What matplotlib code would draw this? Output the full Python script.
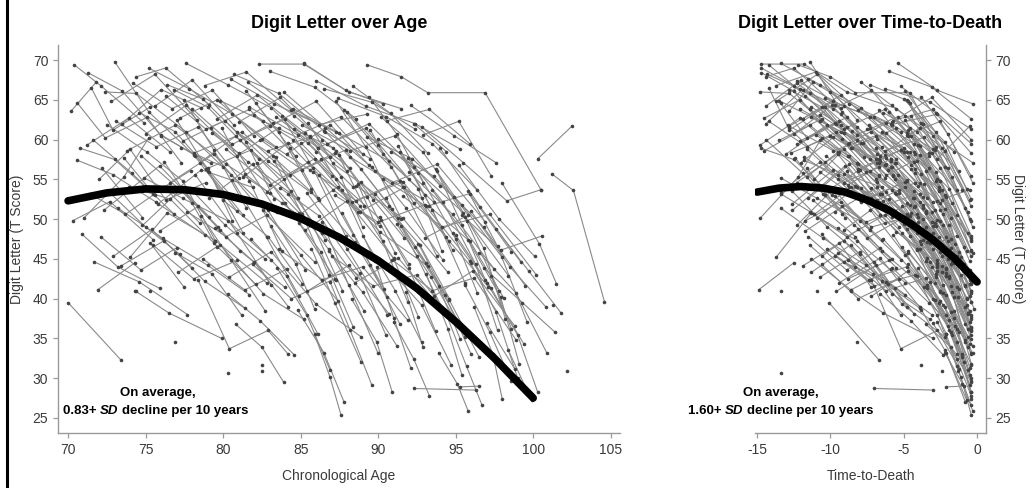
import numpy as np
import matplotlib.pyplot as plt
from matplotlib.lines import Line2D

plt.rcParams['font.family'] = ['Liberation Sans', 'DejaVu Sans']
plt.rcParams['axes.unicode_minus'] = False

# one entry per participant: age at death, ages at each visit, T scores at each visit
death_age = [
    84.6, 83.0, 86.0, 80.1, 85.5, 82.4, 85.8, 87.2, 86.5, 86.0,
    84.4, 83.8, 87.9, 81.5, 87.7, 88.8, 85.2, 88.3, 86.8, 82.9,
    89.9, 90.0, 88.3, 87.0, 88.4, 89.6, 84.7, 91.7, 86.4, 91.0,
    90.8, 88.5, 85.6, 92.5, 92.0, 87.9, 89.0, 93.3, 91.2, 86.9,
    95.0, 94.6, 90.5, 88.2, 92.7, 97.0, 89.9, 95.8, 91.9, 87.5,
    93.9, 90.7, 96.6, 88.6, 92.9, 94.4, 89.8, 98.3, 91.6, 93.1,
    90.1, 95.3, 97.8, 92.2, 94.0, 91.3, 96.9, 93.6, 99.1, 95.5,
    92.6, 97.2, 94.9, 100.3, 96.2, 96.0, 93.5, 99.6, 97.5, 101.0,
    95.9, 98.8, 100.9, 97.1, 99.9, 101.5, 103.0, 105.0, 99.0, 101.6,
    100.0, 102.4, 101.9, 100.6, 97.4, 99.3, 87.8, 86.2, 85.1, 93.7,
    86.3, 84.9, 103.5, 102.0, 80.5, 81.9, 83.2, 84.1, 85.4, 86.7,
    87.4, 88.8, 89.3, 90.4, 91.4, 92.3, 93.2, 94.1, 95.2, 96.4,
    97.3, 98.6, 99.4, 81.0, 82.6, 79.9, 83.7, 85.8, 87.0, 88.1,
    89.5, 90.9, 92.1, 93.0, 94.5, 95.7, 96.8, 98.1, 99.5, 100.7,
    84.3, 88.0, 93.7, 96.1, 98.4, 99.2, 86.1, 91.5, 95.1, 89.2,
    92.8, 96.3, 90.6, 97.9, 101.2, 82.0, 84.8, 83.5, 86.6, 85.0,
    87.6, 80.8, 89.1, 101.5,
    84.0, 86.0, 83.1, 85.7, 87.3, 84.9, 86.5, 86.0, 87.5, 87.1,
    88.0, 88.9, 89.5, 89.4, 90.5, 90.6, 91.5, 91.8, 92.0, 92.9,
    93.0, 93.1, 96.2, 94.7, 97.1, 95.6, 98.0, 96.5, 99.0, 97.6,
    100.0, 98.5, 99.8, 101.3, 100.5, 102.0, 83.6, 85.3, 86.9, 88.4,
    90.0, 91.1, 92.5, 93.8, 95.0, 96.7, 97.9, 99.7, 100.8, 102.6,
    82.3, 84.5, 86.4, 88.3, 90.3, 92.0, 94.2, 96.0, 98.2, 100.1,
    83.9, 87.8, 91.0, 95.8, 93.6, 86.8, 89.0, 97.7,
]

visit_ages = [
    [70.4, 72.1, 74.9], [70.2, 71.8], [71.3, 73.5, 76.0, 79.2], [70.0, 73.4], [70.8, 73.0, 75.6],
    [70.6, 72.9, 75.7, 78.8], [71.0, 73.6, 75.2], [72.4, 74.4, 77.6, 80.5], [72.8, 75.6, 78.3], [71.6, 74.1, 76.8],
    [73.0, 75.2, 78.1, 80.9], [72.2, 74.8], [73.5, 76.0, 78.6], [70.9, 73.2, 75.9], [74.0, 76.4, 79.5, 82.8],
    [74.4, 76.3, 79.1], [72.6, 75.0, 77.2], [73.8, 76.9, 80.2, 83.0], [71.9, 74.3], [74.3, 76.5, 79.9],
    [75.2, 77.8, 80.6, 83.4], [75.6, 78.0, 80.7], [74.9, 77.4, 80.3, 83.1], [76.0, 78.2, 80.4], [75.8, 78.6, 81.9],
    [76.8, 79.0, 82.3], [75.3, 77.5], [77.2, 79.6, 82.5, 85.6], [76.9, 79.3, 81.2], [77.6, 80.3, 83.1, 86.0],
    [78.1, 80.8, 83.9], [77.9, 80.1, 82.7], [78.4, 80.4, 82.9, 84.2], [78.8, 81.5, 84.4, 87.3], [79.2, 81.6, 84.8],
    [79.0, 81.3], [79.5, 82.0, 84.2], [79.8, 82.6, 85.5, 88.4], [80.0, 82.9, 85.1], [80.3, 82.4, 84.6],
    [80.7, 83.6, 86.5, 89.5], [81.1, 84.0, 86.9], [81.4, 83.8, 86.4, 88.6], [81.8, 84.1, 86.1], [82.0, 84.5, 87.0],
    [82.3, 85.2, 88.1, 91.5], [82.6, 85.0, 87.4], [83.0, 86.0, 89.0], [83.2, 85.7, 88.5, 90.6], [83.5, 85.4, 86.9],
    [83.9, 86.6, 89.4], [84.2, 86.8, 89.1], [84.5, 87.5, 90.7, 93.6], [84.8, 86.5, 87.8], [85.0, 87.3, 90.2, 92.0],
    [85.3, 88.0, 91.0], [85.7, 87.2, 88.9], [86.0, 89.2, 92.4, 95.3], [86.2, 88.4, 90.4], [86.6, 88.9, 91.3],
    [86.9, 88.2, 89.6], [87.1, 89.8, 92.7, 94.6], [87.4, 90.5, 93.5, 96.4], [87.7, 89.5, 91.4], [88.0, 90.0, 92.3],
    [88.3, 89.9, 90.9], [88.6, 91.6, 94.5], [89.0, 91.1, 92.8], [89.3, 92.2, 95.4, 98.0], [89.6, 91.8, 94.2],
    [89.9, 91.0, 92.1], [90.2, 92.9, 95.8], [90.5, 92.5, 94.3], [90.8, 93.6, 96.8, 99.5], [91.2, 93.4, 95.6],
    [92.3, 94.4], [91.8, 92.9], [92.0, 94.8, 97.5], [92.4, 94.6, 96.5], [92.8, 95.5, 98.3, 100.5],
    [93.1, 94.5, 95.4], [93.5, 95.9, 98.1], [94.0, 96.6, 99.2], [94.4, 95.7, 96.7], [94.8, 97.0, 99.4],
    [95.2, 97.8, 100.1], [100.3, 102.5], [101.2, 102.6, 104.6], [95.6, 97.2, 98.6], [96.0, 98.5, 100.8],
    [97.0, 98.8], [97.6, 99.7, 101.8], [98.0, 100.4, 101.5], [98.4, 99.9], [95.3, 96.5],
    [92.3, 96.3], [74.4], [75.3], [76.9], [80.3],
    [82.5], [82.5], [102.2], [101.3], [76.2, 78.0, 79.6],
    [77.0, 79.1, 81.3], [78.6, 80.5, 82.7], [79.3, 81.0, 83.5], [80.6, 82.8, 84.9], [82.1, 84.3, 86.2],
    [83.3, 85.1, 86.8], [84.0, 86.3, 88.4], [85.5, 87.6, 89.0], [86.4, 88.1, 90.0], [87.5, 89.3, 91.1],
    [88.7, 90.3, 91.9], [89.4, 91.2, 92.9], [90.1, 92.0, 93.7], [91.3, 93.0, 94.8], [92.6, 94.3, 96.0],
    [93.8, 95.4, 96.9], [94.9, 96.8, 98.2], [95.9, 97.6, 99.0], [74.6, 76.9, 79.0, 80.6], [73.9, 76.6, 79.4, 82.1],
    [72.5, 75.1, 77.4, 79.5], [76.4, 78.7, 81.5, 83.3], [77.3, 80.0, 82.9, 85.3], [78.9, 81.8, 84.4, 86.6], [80.9, 83.4, 85.8, 87.7],
    [81.6, 84.6, 87.3, 89.1], [83.7, 86.2, 88.8, 90.5], [84.6, 87.1, 89.7, 91.7], [86.3, 88.8, 91.0, 92.6], [87.8, 90.3, 92.6, 94.1],
    [88.9, 91.5, 93.9, 95.3], [90.0, 92.6, 95.0, 96.4], [91.9, 94.2, 96.3, 97.7], [93.3, 95.8, 97.9, 99.1], [95.0, 97.3, 99.0, 100.3],
    [80.8, 82.5, 83.9], [85.9, 86.9, 87.6], [91.0, 92.3, 93.3], [93.9, 95.1, 95.8], [96.2, 97.4, 98.0],
    [97.3, 98.6], [83.1, 84.7, 85.9], [86.8, 89.0, 91.2], [90.4, 92.8, 94.7], [82.9, 85.6, 88.0],
    [86.5, 89.6, 92.4], [90.6, 93.3, 95.9], [85.2, 87.9, 90.3], [92.1, 94.9, 97.6], [96.5, 98.9, 100.9],
    [70.3, 72.7, 75.5], [71.4, 73.7, 76.2, 78.5], [72.9, 75.4, 78.0], [73.2, 76.1, 79.0, 81.7], [74.7, 77.1, 79.7],
    [75.9, 78.4, 81.1, 84.0], [71.7, 74.6, 77.7], [77.7, 80.2, 82.8, 85.9], [89.3, 91.5, 93.2, 96.9, 100.5],
    [70.6, 72.4, 75.1, 77.3], [71.2, 73.9, 76.6], [72.0, 74.0, 76.3, 78.9], [71.5, 72.9, 75.3], [73.1, 75.7, 78.4, 81.0],
    [72.3, 75.9, 79.1], [74.2, 76.7, 79.3, 82.0], [73.6, 75.5, 77.9], [75.0, 77.6, 80.9, 83.6], [74.8, 77.3, 79.8],
    [76.3, 78.9, 81.7, 84.7], [76.6, 79.4, 82.1], [77.4, 80.1, 82.9, 86.1], [78.0, 80.6, 83.2], [78.5, 81.2, 84.3, 87.2],
    [79.1, 81.9, 84.9], [79.6, 82.2, 85.3, 88.2], [80.2, 83.0, 85.9, 88.7], [80.5, 83.3, 86.2, 89.3], [81.3, 84.2, 87.1, 90.1],
    [81.7, 84.8, 87.6, 90.8], [82.4, 85.1, 87.9, 90.9], [82.8, 85.5, 88.3, 91.4], [83.4, 86.1, 89.2, 92.0], [84.1, 86.9, 89.8, 92.8],
    [84.7, 87.4, 90.1, 93.2], [85.1, 88.2, 91.1, 94.0], [85.8, 88.6, 91.6, 94.4], [86.7, 89.4, 92.3, 95.5], [87.2, 90.0, 93.0, 96.0],
    [88.2, 90.9, 93.8, 96.9], [88.8, 91.7, 94.6, 97.1], [90.3, 93.1, 95.9, 98.6], [91.6, 94.1, 97.2, 100.2], [93.0, 95.6, 98.4],
    [95.4, 97.9, 100.6], [72.1, 74.7, 77.0], [73.4, 76.2, 78.8, 81.4], [75.5, 78.1, 80.9], [77.1, 79.8, 82.6, 85.2],
    [78.7, 81.4, 84.1], [80.4, 83.1, 86.0, 88.9], [81.9, 84.4, 87.2], [83.6, 86.4, 89.0, 91.9], [85.4, 88.1, 90.7],
    [87.0, 89.7, 92.5, 95.2], [88.5, 91.3, 94.0], [90.9, 93.5, 96.2, 98.9], [93.6, 96.1, 98.8], [96.8, 99.3, 101.4],
    [77.5, 79.4, 81.5], [79.9, 81.7, 83.8], [81.5, 83.6, 85.7], [83.8, 85.8, 87.9], [85.6, 87.7, 89.8],
    [87.3, 89.2, 91.5], [89.5, 91.6, 93.8], [91.4, 93.5, 95.6], [93.7, 95.7, 97.8], [95.8, 97.7, 99.6],
    [78.2, 80.9, 83.1], [82.2, 84.9, 87.3], [85.4, 88.0, 90.6], [90.7, 93.1, 95.4], [88.4, 90.8, 93.2],
    [81.0, 83.7, 86.4], [83.0, 85.9, 88.6], [92.9, 95.2, 97.3],
]

visit_scores = [
    [69.4, 66.8, 62.1], [63.6, 67.2], [68.4, 66.1, 60.5, 57.0], [39.5, 32.3], [58.9, 57.5, 53.0],
    [57.4, 55.6, 52.1, 48.0], [50.1, 55.3, 60.2], [66.0, 65.8, 61.0, 55.6], [64.8, 68.2, 62.5], [60.0, 55.8, 50.7],
    [69.8, 63.5, 58.1, 51.0], [56.4, 50.2], [62.0, 66.3, 64.0], [48.1, 44.0, 41.3], [45.2, 50.8, 47.3, 42.0],
    [67.9, 69.0, 64.4], [53.5, 49.0, 45.6], [58.6, 61.8, 56.9, 53.3], [41.1, 44.5], [41.0, 38.2, 35.0],
    [69.0, 66.4, 63.2, 59.1], [64.2, 67.5, 61.8], [55.2, 52.6, 49.8, 44.9], [60.6, 58.0, 53.2], [51.9, 56.2, 54.0],
    [66.3, 64.1, 57.5], [47.0, 41.4], [62.7, 65.0, 60.1, 56.2], [45.8, 43.1, 37.9], [69.6, 66.9, 64.0, 58.5],
    [58.3, 60.4, 55.1], [53.8, 49.3, 45.0], [42.3, 33.7, 36.0, 33.0], [66.8, 68.5, 63.7, 60.9], [61.4, 57.2, 52.6],
    [56.0, 50.5], [48.9, 44.6, 39.0], [64.9, 62.3, 59.6, 54.0], [52.4, 47.8, 41.9], [40.6, 37.2, 32.9],
    [68.2, 65.8, 61.1, 57.6], [59.9, 62.6, 57.8], [55.7, 52.0, 48.3, 42.6], [47.5, 42.8, 35.6], [63.1, 60.0, 55.4],
    [69.5, 69.5, 66.0, 63.9], [51.2, 45.5, 39.7], [61.7, 64.8, 58.2], [57.9, 53.4, 47.1, 40.2], [43.8, 37.9, 31.0],
    [66.0, 61.5, 56.8], [53.1, 46.2, 38.4], [63.9, 60.8, 57.3, 52.1], [38.6, 33.2, 27.0], [59.6, 55.0, 49.9, 44.3],
    [48.6, 52.3, 45.1], [46.3, 39.5, 32.0], [67.4, 64.2, 62.0, 58.8], [55.5, 48.0, 41.2], [61.0, 56.3, 50.2],
    [42.1, 36.0, 29.1], [57.0, 53.2, 46.7, 40.0], [65.2, 62.9, 59.5, 53.6], [50.8, 44.2, 36.8], [63.5, 59.3, 52.0],
    [39.9, 34.6, 28.3], [54.2, 50.1, 43.3], [47.9, 41.0, 34.5], [60.3, 57.6, 51.8, 45.2], [56.6, 51.4, 44.8],
    [44.0, 37.6, 31.3], [62.8, 58.4, 50.5], [52.7, 45.3, 38.1], [58.5, 55.4, 49.0, 41.6], [49.4, 42.7, 35.2],
    [62.0, 58.5], [40.8, 33.9], [55.9, 50.6, 43.7], [46.5, 39.8, 32.7], [61.6, 57.1, 52.3, 53.7],
    [43.1, 36.2, 30.4], [53.6, 47.3, 40.1], [58.9, 51.5, 44.6], [38.0, 31.5, 26.6], [48.2, 42.0, 34.3],
    [56.8, 50.0, 45.3], [57.6, 61.7], [55.7, 53.6, 39.6], [41.7, 35.8, 29.6], [51.0, 44.0, 39.0],
    [36.9, 31.2], [48.8, 43.5, 38.2], [54.5, 46.9, 41.9], [33.5, 27.2], [28.9, 29.0],
    [28.7, 28.5], [41.0], [41.0], [34.6], [30.6],
    [31.6], [30.9], [30.9], [39.2], [57.2, 52.0, 46.5],
    [62.5, 55.9, 48.2], [50.4, 44.9, 38.5], [60.8, 58.3, 50.9], [54.9, 47.7, 40.3], [64.6, 59.0, 52.4],
    [57.3, 50.6, 43.0], [52.0, 45.9, 36.4], [62.1, 55.3, 49.0], [49.6, 41.7, 33.1], [58.1, 52.8, 45.7],
    [54.4, 47.2, 39.6], [65.4, 60.7, 54.6], [50.3, 43.8, 35.9], [59.2, 53.0, 46.1], [46.9, 40.5, 33.0],
    [56.0, 49.3, 42.4], [52.8, 46.4, 37.5], [44.7, 38.3, 30.0], [63.4, 61.0, 56.4, 49.8], [54.1, 52.5, 47.0, 41.8],
    [61.9, 58.4, 54.8, 47.3], [66.9, 65.1, 59.7, 52.5], [59.0, 56.6, 51.1, 43.6], [56.3, 58.7, 53.5, 47.4], [60.9, 57.8, 49.2, 41.0],
    [67.2, 63.0, 58.6, 51.6], [53.9, 50.4, 43.2, 35.4], [61.3, 58.9, 52.4, 47.6], [57.5, 51.7, 45.0, 37.7], [63.7, 58.2, 53.8, 46.0],
    [54.7, 49.1, 41.6, 34.9], [60.1, 55.8, 47.5, 40.7], [57.7, 52.1, 44.3, 36.0], [51.6, 47.4, 40.2, 31.8], [48.0, 41.3, 35.4, 28.2],
    [36.8, 33.9, 29.5], [35.5, 30.1, 25.4], [37.0, 32.4, 27.8], [33.2, 29.3, 25.9], [38.9, 33.0, 27.4],
    [42.8, 36.2], [49.1, 44.3, 38.7], [46.0, 40.8, 34.1], [44.4, 39.2, 31.7], [58.6, 60.3, 56.0],
    [66.4, 64.7, 61.3], [62.4, 63.8, 59.5], [69.6, 66.2, 64.5], [64.3, 60.5, 57.1], [45.8, 40.7, 33.1],
    [49.8, 52.2, 47.4], [53.2, 50.6, 54.0, 49.5], [45.3, 48.7, 43.9], [51.4, 47.6, 44.2, 40.5], [58.0, 53.9, 49.0],
    [48.5, 51.6, 46.0, 41.4], [44.6, 42.1, 38.0], [50.9, 47.8, 50.5, 44.6], [69.4, 67.9, 65.9, 65.9, 53.7],
    [64.6, 60.2, 62.8, 57.1], [59.3, 62.7, 58.4], [55.0, 58.8, 52.4, 54.6], [66.5, 61.2, 64.1], [62.3, 59.1, 61.6, 55.2],
    [51.1, 56.7, 50.3], [67.1, 63.9, 66.2, 60.4], [57.7, 53.2, 56.1], [60.7, 64.3, 58.0, 61.5], [49.2, 53.8, 48.6],
    [65.5, 61.3, 63.8, 57.9], [54.6, 58.2, 51.9], [59.8, 62.4, 57.3, 52.7], [63.9, 59.4, 62.1], [57.1, 61.0, 55.5, 58.3],
    [52.6, 56.9, 50.8], [62.6, 65.6, 60.8, 56.4], [58.8, 54.3, 57.6, 50.9], [67.6, 64.5, 61.9, 63.2], [55.3, 59.6, 53.7, 49.1],
    [64.1, 60.6, 62.9, 56.6], [60.0, 56.2, 58.7, 51.3], [53.4, 57.2, 52.1, 54.8], [62.9, 59.0, 61.4, 55.0], [58.2, 61.9, 56.0, 52.6],
    [50.2, 54.1, 48.4, 44.1], [61.8, 58.6, 60.5, 54.2], [55.9, 52.3, 54.7, 47.8], [59.4, 62.0, 56.5, 50.8], [53.0, 49.6, 51.8, 44.5],
    [57.8, 54.6, 56.9, 49.7], [50.9, 54.0, 47.2, 41.5], [55.1, 51.6, 53.2, 45.9], [52.9, 49.0, 50.6, 43.0], [47.6, 50.3, 42.9],
    [50.5, 46.1, 47.9], [47.8, 43.6, 46.4], [44.1, 47.3, 42.2, 38.8], [46.7, 42.5, 44.8], [43.3, 46.8, 40.6, 37.4],
    [45.0, 41.1, 43.7], [42.7, 45.9, 39.3, 35.2], [44.3, 40.0, 42.5], [46.2, 42.4, 44.0, 37.3], [40.9, 44.2, 38.1],
    [45.4, 41.6, 43.0, 36.5], [42.0, 45.1, 38.9], [44.9, 41.0, 42.6, 34.8], [40.3, 43.5, 36.6], [43.9, 39.5, 35.8],
    [65.0, 58.7, 51.4], [61.5, 54.8, 46.0], [66.1, 60.9, 53.8], [63.0, 56.4, 47.9], [60.4, 53.6, 44.7],
    [64.8, 59.1, 50.0], [61.2, 54.0, 45.3], [58.4, 51.2, 42.0], [56.3, 49.8, 40.9], [53.5, 46.6, 37.1],
    [55.6, 48.3, 41.7], [57.0, 49.5, 42.3], [53.3, 46.3, 38.0], [51.7, 44.5, 36.3], [66.7, 63.3, 58.3],
    [62.2, 65.3, 60.0], [68.6, 66.6, 62.6], [60.6, 62.3, 55.4],
]

# average trajectories (thick black curves)
mean_age = [70, 72.5, 75, 77.5, 80, 82.5, 85, 87.5, 90, 92.5, 95, 97.5, 100]
mean_age_score = [52.3, 53.3, 53.8, 53.7, 53.1, 51.9, 50.1, 47.7, 44.8, 41.3, 37.1, 32.5, 27.5]
mean_ttd = [-15, -13.5, -12, -10.5, -9, -7.5, -6, -4.5, -3, -1.5, 0]
mean_ttd_score = [53.4, 53.9, 54.1, 53.9, 53.4, 52.4, 51.1, 49.4, 47.4, 45.0, 42.1]

line_col = '#8a8a8a'
dot_col = '#444444'
axis_col = '#9a9a9a'
text_col = '#3a3a3a'

fig = plt.figure(figsize=(10.34, 4.88), dpi=100)
ax1 = fig.add_axes([0.0561, 0.1127, 0.5435, 0.7951])
ax2 = fig.add_axes([0.7302, 0.1127, 0.2234, 0.7951])

for d, a, s in zip(death_age, visit_ages, visit_scores):
    a = np.array(a)
    for ax, xs in ((ax1, a), (ax2, a - d)):
        ax.plot(xs, s, '-', color=line_col, lw=0.8, zorder=1)
        ax.plot(xs, s, 'o', ms=2.6, mfc=dot_col, mec=dot_col, mew=0, zorder=2)

ax1.plot(mean_age, mean_age_score, color='black', lw=5.5, solid_capstyle='round', zorder=3)
ax2.plot(mean_ttd, mean_ttd_score, color='black', lw=5.5, solid_capstyle='round', zorder=3)

yticks = [25, 30, 35, 40, 45, 50, 55, 60, 65, 70]
ax1.set_xlim(69.35, 105.6)
ax1.set_ylim(23.1, 71.9)
ax1.set_xticks([70, 75, 80, 85, 90, 95, 100, 105])
ax2.set_xlim(-15.14, 0.61)
ax2.set_ylim(23.1, 71.9)
ax2.set_xticks([-15, -10, -5, 0])
for ax in (ax1, ax2):
    ax.set_yticks(yticks)
    for sp in ax.spines.values():
        sp.set_color(axis_col)
        sp.set_linewidth(1.0)
    ax.spines['top'].set_visible(False)
    ax.tick_params(colors=axis_col, labelcolor=text_col, labelsize=10, length=3.5, width=0.9)

ax1.spines['right'].set_visible(False)
ax2.spines['left'].set_visible(False)
ax2.yaxis.tick_right()
ax2.yaxis.set_label_position('right')

ax1.set_title('Digit Letter over Age', fontweight='bold', fontsize=13, pad=12)
ax2.set_title('Digit Letter over Time-to-Death', fontweight='bold', fontsize=13, pad=12)
ax1.set_xlabel('Chronological Age', fontsize=10, color=text_col, labelpad=9)
ax2.set_xlabel('Time-to-Death', fontsize=10, color=text_col, labelpad=9)
ax1.set_ylabel('Digit Letter (T Score)', fontsize=10, color=text_col, labelpad=6)
ax2.set_ylabel('Digit Letter (T Score)', fontsize=10, color=text_col, rotation=-90,
               va='bottom', labelpad=0)


def add_note(ax, x_center, x_left, rate):
    ax.text(x_center, 27.7, 'On average,', ha='center', va='baseline',
            fontweight='bold', fontsize=9.5, zorder=5)
    t1 = ax.text(x_left, 25.5, rate + '+ ', ha='left', va='baseline',
                 fontweight='bold', fontsize=9.5, zorder=5)
    t2 = ax.annotate('SD', xy=(1, 0), xycoords=t1, ha='left', va='bottom',
                     fontweight='bold', style='italic', fontsize=9.5, zorder=5)
    ax.annotate('decline per 10 years', xy=(1, 0), xycoords=t2, xytext=(2.5, 0),
                textcoords='offset points', ha='left', va='bottom',
                fontweight='bold', fontsize=9.5, zorder=5)


add_note(ax1, 75.8, 69.68, '0.83')
add_note(ax2, -13.4, -19.7, '1.60')

# black frame edge on the left
fig.add_artist(Line2D([7 / 1034, 7 / 1034], [0, 1], color='black', lw=2.2))

fig.savefig('out.png', dpi=100)
